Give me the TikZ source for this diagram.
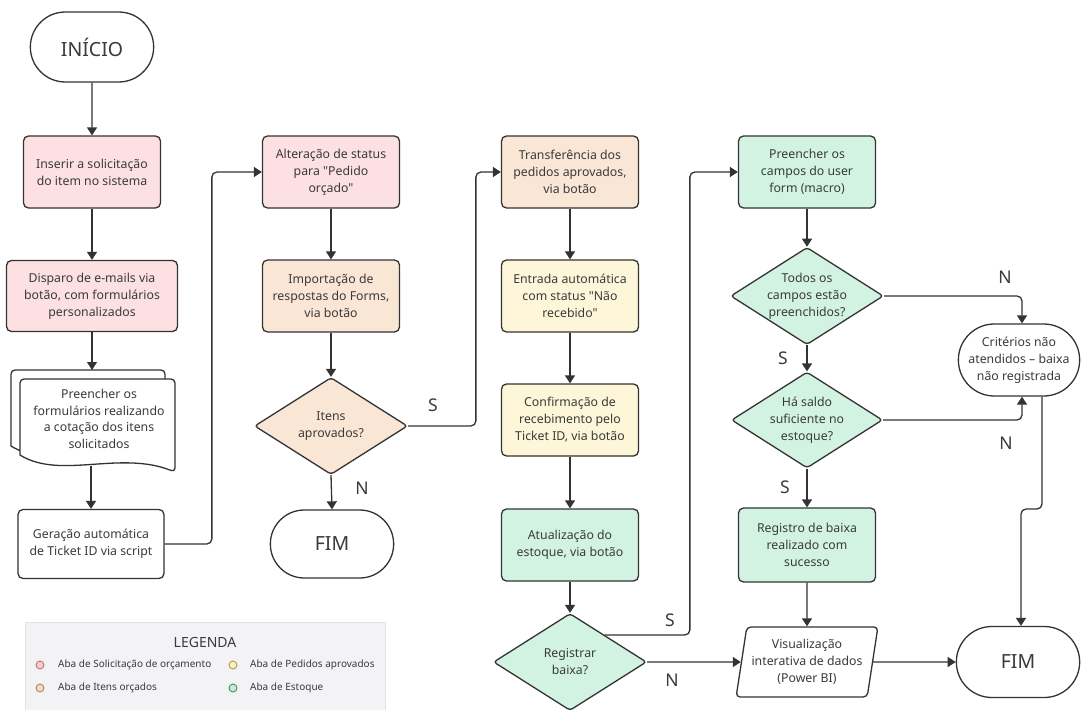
\documentclass[tikz,border=0pt]{standalone}
\usepackage{fontspec}
\setmainfont{Noto Sans}[Ligatures=TeXOff]
\usetikzlibrary{shapes.geometric,shapes.misc,arrows.meta,calc}
\definecolor{ln}{HTML}{333333}
\definecolor{txt}{HTML}{3A3A3A}
\definecolor{cpink}{HTML}{FDE0E1}
\definecolor{cpeach}{HTML}{FAE6D5}
\definecolor{cyellow}{HTML}{FEF6D8}
\definecolor{cgreen}{HTML}{D3F3E2}
\definecolor{legbg}{HTML}{F3F3F6}
\definecolor{legln}{HTML}{E2E2E8}
\tikzset{
 base/.style={draw=ln, line width=1.3pt, text=txt, font=\fontsize{12.3}{17}\selectfont, align=center},
 proc/.style={base, rectangle, rounded corners=5pt, minimum width=137pt, minimum height=72pt, inner sep=2pt},
 term/.style={base, rounded rectangle, minimum width=130pt, minimum height=70pt},
 bigtxt/.style={font=\fontsize{19.5}{22}\selectfont},
 dec/.style={base, diamond, aspect=1.57, minimum width=153pt, minimum height=97pt, inner sep=0pt, rounded corners=3pt},
 para/.style={base, trapezium, trapezium left angle=78, trapezium right angle=102, trapezium stretches=true, minimum width=142pt, minimum height=70pt, inner sep=1pt, rounded corners=4pt},
 conn/.style={draw=ln, line width=1.3pt, rounded corners=5pt, -{Triangle[width=10pt,length=8pt]}},
 plain/.style={draw=ln, line width=1.3pt, rounded corners=5pt},
 lab/.style={font=\fontsize{17.5}{20}\selectfont, text=txt},
 legtxt/.style={font=\fontsize{10}{12}\selectfont, text=txt, anchor=west, inner sep=0pt},
 legdot/.style={circle, line width=1pt, minimum size=8pt, inner sep=0pt},
}
\begin{document}
\begin{tikzpicture}[x=1pt,y=-1pt]
\useasboundingbox (0,0) rectangle (1083,709);
\fill[white] (0,0) rectangle (1083,709);

% legend
\draw[fill=legbg, draw=legln, line width=0.8pt] (25,622) rectangle (385,730);
\node[font=\fontsize{14}{16}\selectfont, text=txt] (legt) at (205,642) {LEGENDA};
\node[legdot, draw={rgb,255:red,200;green,120;blue,120}, fill={rgb,255:red,248;green,205;blue,205}] (l1) at (40,665) {};
\node[legtxt] (l1t) at (58,665) {Aba de Solicitação de orçamento};
\node[legdot, draw={rgb,255:red,180;green,140;blue,95}, fill={rgb,255:red,243;green,220;blue,196}] (l2) at (40,688) {};
\node[legtxt] (l2t) at (58,688) {Aba de Itens orçados};
\node[legdot, draw={rgb,255:red,175;green,162;blue,80}, fill={rgb,255:red,250;green,240;blue,196}] (l3) at (233,665) {};
\node[legtxt] (l3t) at (250,665) {Aba de Pedidos aprovados};
\node[legdot, draw={rgb,255:red,80;green,150;blue,115}, fill={rgb,255:red,196;green,236;blue,214}] (l4) at (233,688) {};
\node[legtxt] (l4t) at (250,688) {Aba de Estoque};

% column 1
\node[term, bigtxt] (start) at (92,47) {INÍCIO};
\node[proc, fill=cpink] (b1) at (92,172) {Inserir a solicitação\\do item no sistema};
\node[proc, fill=cpink, minimum width=171pt, minimum height=71pt] (b2) at (92,296) {Disparo de e-mails via\\botão, com formulários\\personalizados};
% multi-document shape
\draw[plain, fill=white, rounded corners=4pt] (11,444) -- (11,370) -- (165,370) -- (165,463) [sharp corners] .. controls (111,441) and (51,471) .. (11,446) -- cycle;
\draw[plain, fill=white, rounded corners=4pt] (20,455) -- (20,379) -- (175,379) -- (175,472) [sharp corners] .. controls (120,450) and (60,480) .. (20,455) -- cycle;
\node[text=txt, font=\fontsize{12.3}{16.5}\selectfont, align=center] (doc) at (99,419) {Preencher os\\formulários realizando\\a cotação dos itens\\solicitados};
\coordinate (docTop) at (92,370);
\coordinate (docBot) at (91,466);
\node[proc, fill=white, minimum width=146pt, minimum height=69pt] (gen) at (91,544) {Geração automática\\de Ticket ID via script};

% column 2
\node[proc, fill=cpink] (b3) at (331,172) {Alteração de status\\para "Pedido\\orçado"};
\node[proc, fill=cpeach] (b4) at (331,296) {Importação de\\respostas do Forms,\\via botão};
\node[dec, fill=cpeach] (d1) at (331,426) {Itens\\aprovados?};
\node[term, bigtxt, minimum height=68pt] (fim1) at (332,544) {FIM};

% column 3
\node[proc, fill=cpeach] (b5) at (570,172) {Transferência dos\\pedidos aprovados,\\via botão};
\node[proc, fill=cyellow] (b6) at (570,296) {Entrada automática\\com status "Não\\recebido"};
\node[proc, fill=cyellow] (b7) at (570,420) {Confirmação de\\recebimento pelo\\Ticket ID, via botão};
\node[proc, fill=cgreen] (b8) at (570,545) {Atualização do\\estoque, via botão};
\node[dec, fill=cgreen] (d2) at (570,662) {Registrar\\baixa?};

% column 4
\node[proc, fill=cgreen] (b9) at (807,172) {Preencher os\\campos do user\\form (macro)};
\node[dec, fill=cgreen, minimum width=151pt, minimum height=96pt] (q1) at (807,296) {Todos os\\campos estão\\preenchidos?};
\node[dec, fill=cgreen, minimum width=151pt, minimum height=96pt] (q2) at (807,420) {Há saldo\\suficiente no\\estoque?};
\node[proc, fill=cgreen, minimum height=74pt] (b10) at (807,545) {Registro de baixa\\realizado com\\sucesso};
\node[para, fill=white] (viz) at (807,662) {Visualização\\interativa de dados\\(Power BI)};

% column 5
\node[term, minimum width=128pt, minimum height=72pt] (crit) at (1019,360) {Critérios não\\atendidos – baixa\\não registrada};
\node[term, bigtxt, minimum height=71pt] (fim2) at (1018,662) {FIM};

% connectors
\draw[conn] (start) -- (b1);
\draw[conn] (b1) -- (b2);
\draw[conn] (b2.south -| docTop) -- (docTop);
\draw[conn] (docBot) -- (gen.north);
\draw[conn] (gen.east) -| ([xshift=-50pt]b3.west) -- (b3.west);
\draw[conn] (b3) -- (b4);
\draw[conn] (b4) -- (d1);
\draw[conn] (d1.south) -- (fim1.north);
\draw[conn] (d1.east) -| ([xshift=-25pt]b5.west) -- (b5.west);
\draw[conn] (b5) -- (b6);
\draw[conn] (b6) -- (b7);
\draw[conn] (b7) -- (b8);
\draw[conn] (b8) -- (d2);
\coordinate (d2s) at ($(d2.north)!0.45!(d2.east)$);
\draw[conn] (d2s) -| ([xshift=-48pt]b9.west) -- (b9.west);
\draw[conn] (d2.east) -- (viz.west);
\draw[conn] (b9) -- (q1);
\draw[conn] (q1) -- (q2);
\draw[conn] (q2) -- (b10);
\draw[conn] (b10.south) -- (viz.north);
\draw[conn] (viz.east) -- (fim2.west);
\draw[conn] (q1.east) -| ([xshift=3pt]crit.north);
\draw[conn] (q2.east) -| ([xshift=3pt]crit.south);
\draw[conn] ([xshift=23pt]crit.south) |- (1032,509) -| ([xshift=3pt]fim2.north);

% labels
\node[lab] (ls1) at (433,405) {S};
\node[lab] (ln1) at (362,488) {N};
\node[lab] (ls2) at (670,620) {S};
\node[lab] (ln2) at (672,680) {N};
\node[lab] (ln3) at (1005,277) {N};
\node[lab] (ls3) at (783,358) {S};
\node[lab] (ls4) at (785,487) {S};
\node[lab] (ln4) at (1006,443) {N};
\end{tikzpicture}
\end{document}
